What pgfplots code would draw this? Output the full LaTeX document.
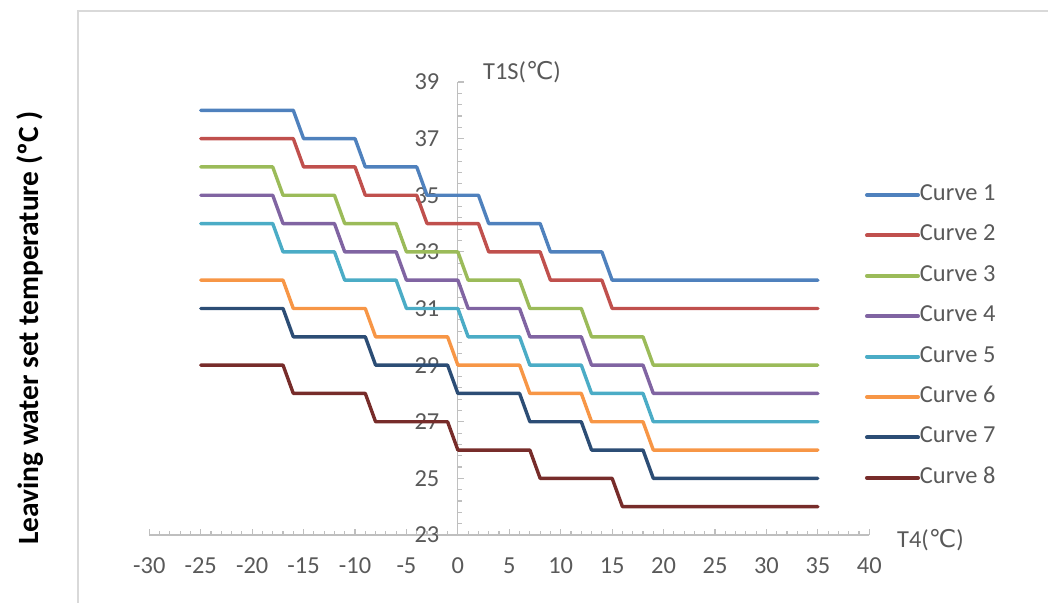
\documentclass[border=0pt]{standalone}
\usepackage{fontspec}
\setmainfont{Carlito}
\newfontfamily\dv{DejaVu Sans}
\usepackage{pgfplots}
\pgfplotsset{compat=1.18}
\definecolor{c1}{HTML}{4F81BD}
\definecolor{c2}{HTML}{C0504D}
\definecolor{c3}{HTML}{9BBB59}
\definecolor{c4}{HTML}{8064A2}
\definecolor{c5}{HTML}{4BACC6}
\definecolor{c6}{HTML}{F79646}
\definecolor{c7}{HTML}{2C4D75}
\definecolor{c8}{HTML}{772C2A}
\definecolor{axgray}{HTML}{BFBFBF}
\definecolor{txt}{HTML}{595959}
\definecolor{bordercol}{HTML}{D9D9D9}
\begin{document}
\begin{tikzpicture}
\useasboundingbox (0bp,0bp) rectangle (1048bp,603bp);
\draw[bordercol, line width=1.2bp] (78bp,0bp) -- (78bp,592bp) -- (1048bp,592bp);
\begin{axis}[
  at={(149.3bp,68bp)}, anchor=south west,
  scale only axis, width=720bp, height=453bp,
  xmin=-30, xmax=40, ymin=23, ymax=39,
  axis x line=bottom, axis y line=middle,
  axis line style={axgray, line width=1.2bp, -},
  xtick={-30,-25,...,40}, ytick={23,25,...,39},
  minor x tick num=4, minor y tick num=4,
  tick align=inside,
  major tick length=6bp, minor tick length=4bp,
  every tick/.style={axgray, line width=1.1bp},
  hide obscured x ticks=false, hide obscured y ticks=false,
  /pgf/number format/assume math mode=true,
  tick label style={font=\fontsize{24.5}{28}\selectfont, text=txt},
  xticklabel style={yshift=-19bp},
  yticklabel style={xshift=-15bp},
  clip=false,
  legend cell align=left,
  legend image code/.code={\draw[#1, line width=4bp, line cap=round] (0bp,0bp) -- (51bp,0bp);},
  legend style={draw=none, fill=none, inner sep=0pt, outer sep=0pt,
    row sep=19.4bp, anchor=north west, at={(axis cs:39.58,35.38)},
    font=\fontsize{24.5}{28}\selectfont, text=txt,
    nodes={inner sep=0pt, text height=16bp, text depth=5bp},
    /tikz/every even column/.append style={column sep=8bp}},
  every axis plot/.append style={line width=3.4bp, line join=round, line cap=round},
]
\addplot[c1] coordinates {(-25,38)(-16,38)(-15,37)(-10,37)(-9,36)(-4,36)(-3,35)(2,35)(3,34)(8,34)(9,33)(14,33)(15,32)(35,32)};
\addlegendentry{Curve 1}
\addplot[c2] coordinates {(-25,37)(-16,37)(-15,36)(-10,36)(-9,35)(-4,35)(-3,34)(2,34)(3,33)(8,33)(9,32)(14,32)(15,31)(35,31)};
\addlegendentry{Curve 2}
\addplot[c3] coordinates {(-25,36)(-18,36)(-17,35)(-12,35)(-11,34)(-6,34)(-5,33)(0,33)(1,32)(6,32)(7,31)(12,31)(13,30)(18,30)(19,29)(35,29)};
\addlegendentry{Curve 3}
\addplot[c4] coordinates {(-25,35)(-18,35)(-17,34)(-12,34)(-11,33)(-6,33)(-5,32)(0,32)(1,31)(6,31)(7,30)(12,30)(13,29)(18,29)(19,28)(35,28)};
\addlegendentry{Curve 4}
\addplot[c5] coordinates {(-25,34)(-18,34)(-17,33)(-12,33)(-11,32)(-6,32)(-5,31)(0,31)(1,30)(6,30)(7,29)(12,29)(13,28)(18,28)(19,27)(35,27)};
\addlegendentry{Curve 5}
\addplot[c6] coordinates {(-25,32)(-17,32)(-16,31)(-9,31)(-8,30)(-1,30)(0,29)(6,29)(7,28)(12,28)(13,27)(18,27)(19,26)(35,26)};
\addlegendentry{Curve 6}
\addplot[c7] coordinates {(-25,31)(-17,31)(-16,30)(-9,30)(-8,29)(-1,29)(0,28)(6,28)(7,27)(12,27)(13,26)(18,26)(19,25)(35,25)};
\addlegendentry{Curve 7}
\addplot[c8] coordinates {(-25,29)(-17,29)(-16,28)(-9,28)(-8,27)(-1,27)(0,26)(7,26)(8,25)(15,25)(16,24)(35,24)};
\addlegendentry{Curve 8}
\end{axis}
\node[anchor=west, text=txt, font=\fontsize{24.5}{28}\selectfont, inner sep=0pt] at (483bp,531bp) {T1S({\dv ℃})};
\node[anchor=west, text=txt, font=\fontsize{24.5}{28}\selectfont, inner sep=0pt] at (897bp,63bp) {T4({\dv ℃})};
\node[rotate=90, font=\fontsize{29.5}{33}\selectfont\bfseries, inner sep=0pt] at (30bp,275bp) {Leaving water set temperature (ºC )};
\end{tikzpicture}
\end{document}
